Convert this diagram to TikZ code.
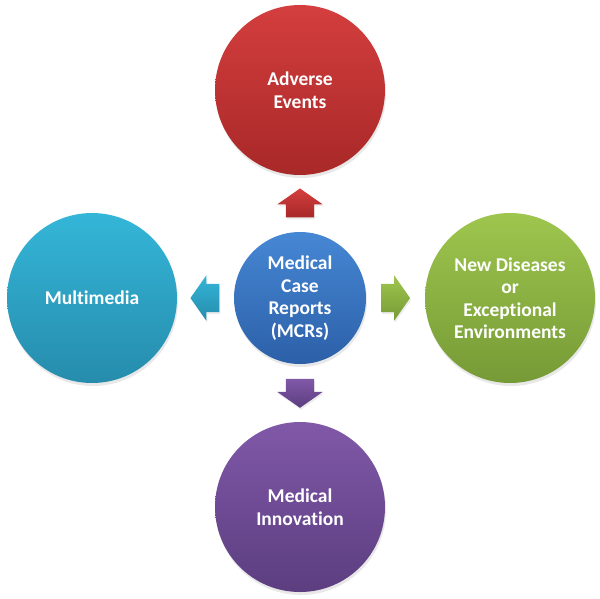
\documentclass[tikz,border=0pt]{standalone}
\usepackage{fontspec}
\setmainfont{Carlito}[RawFeature={-liga}]
\usetikzlibrary{shapes.arrows,shadows}

\definecolor{redtop}{RGB}{212,62,62}
\definecolor{redbot}{RGB}{168,40,40}
\definecolor{bluetop}{RGB}{70,135,212}
\definecolor{bluebot}{RGB}{44,96,168}
\definecolor{cyantop}{RGB}{52,182,216}
\definecolor{cyanbot}{RGB}{38,140,172}
\definecolor{greentop}{RGB}{158,198,78}
\definecolor{greenbot}{RGB}{118,154,54}
\definecolor{purptop}{RGB}{128,88,168}
\definecolor{purpbot}{RGB}{92,62,128}

\tikzset{
	topic/.style={circle, minimum size=170pt, inner sep=0pt, align=center,
		text=white, font=\bfseries\fontsize{19.5}{22.5}\selectfont,
		drop shadow={opacity=0.18, shadow xshift=1pt, shadow yshift=-3pt}},
	hub/.style={topic, minimum size=132pt},
	blockarrow/.style={single arrow, minimum height=29pt, inner xsep=0pt, inner ysep=14pt,
		single arrow head extend=8.5pt, single arrow tip angle=110,
		sloped, allow upside down, pos=0.25, anchor=tail,
		drop shadow={opacity=0.15, shadow xshift=1pt, shadow yshift=-2pt}}
}

\begin{document}
\begin{tikzpicture}[x=1pt, y=-1pt]
		\useasboundingbox (0,0) rectangle (600,598);

		\node[hub, top color=bluetop, bottom color=bluebot] (mcr) at (300,298) {Medical\\Case\\Reports\\(MCRs)};

		\node[topic, top color=redtop, bottom color=redbot] (adverse) at (300,90) {Adverse\\Events};
		\node[topic, top color=cyantop, bottom color=cyanbot] (multimedia) at (92,298) {Multimedia};
		\node[topic, top color=greentop, bottom color=greenbot] (diseases) at (510,298) {New Diseases\\or\\Exceptional\\Environments};
		\node[topic, top color=purptop, bottom color=purpbot] (innovation) at (300,507) {Medical\\Innovation};

		\path (mcr.north) -- (adverse.south) node[blockarrow, top color=redtop, bottom color=redbot] (upArr) {};
		\path (mcr.west) -- (multimedia.east) node[blockarrow, top color=cyantop, bottom color=cyanbot] (leftArr) {};
		\path (mcr.east) -- (diseases.west) node[blockarrow, top color=greentop, bottom color=greenbot] (rightArr) {};
		\path (mcr.south) -- (innovation.north) node[blockarrow, top color=purptop, bottom color=purpbot] (downArr) {};

	\end{tikzpicture}
\end{document}
